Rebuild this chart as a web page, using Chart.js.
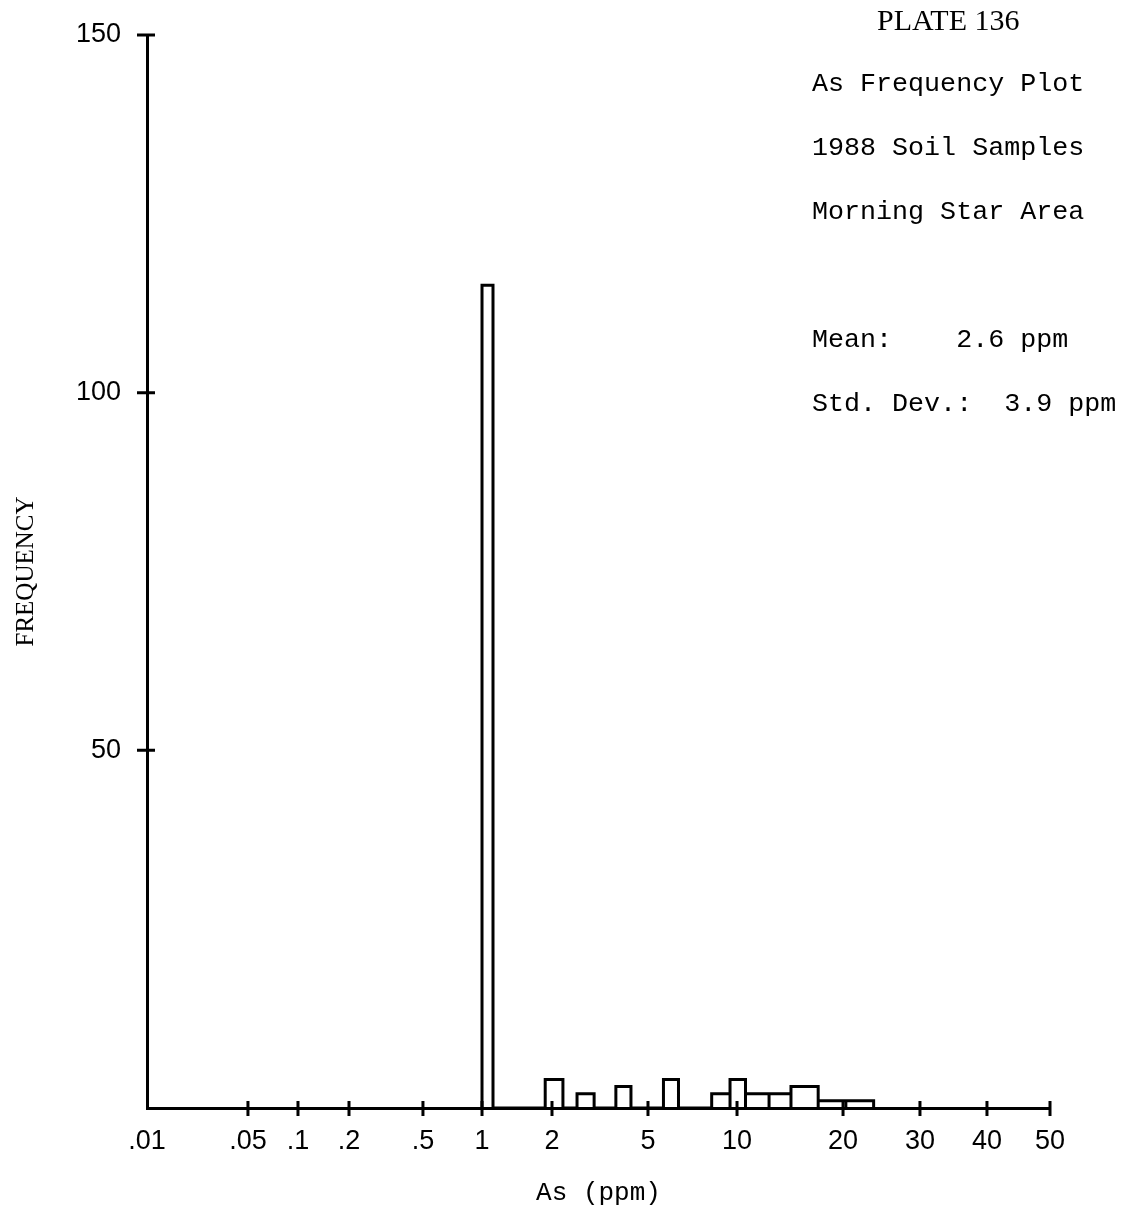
<!DOCTYPE html>
<html>
<head>
<meta charset="utf-8">
<script src="https://cdn.jsdelivr.net/npm/chart.js@4/dist/chart.umd.min.js"></script>
<style>
    html, body { margin: 0; padding: 0; background: #fff; }
    #wrap { position: relative; width: 1129px; height: 1215px; }
    #notes { position: absolute; left: 812px; top: -12px; color: #000; font-family: 'Liberation Mono', monospace; font-size: 26.7px; line-height: 64px; }
    #notes .ln { white-space: pre; height: 64px; }
    #notes .plate { font-family: 'Liberation Serif', serif; font-size: 30px; padding-left: 65px; }
</style>
</head>
<body>
<div id="wrap">
    <canvas id="chart"></canvas>
    <div id="notes"><div class="ln plate">PLATE 136</div><div class="ln">As Frequency Plot</div><div class="ln">1988 Soil Samples</div><div class="ln">Morning Star Area</div><div class="ln"> </div><div class="ln">Mean:    2.6 ppm</div><div class="ln">Std. Dev.:  3.9 ppm</div></div>
</div>
<script>
// x axis ticks (ppm) and where each sits along the axis (0 = left end, 1 = right end)
const tickValues = [0.01, 0.05, 0.1, 0.2, 0.5, 1, 2, 5, 10, 20, 30, 40, 50];
const tickLabels = ['.01', '.05', '.1', '.2', '.5', '1', '2', '5', '10', '20', '30', '40', '50'];
const tickStops = [0, 0.1118, 0.1672, 0.2237, 0.3056, 0.3710, 0.4485, 0.5548, 0.6534, 0.7708, 0.8560, 0.9302, 1];

// histogram classes (ppm) and counts
const binLow  = [1.0, 1.87, 2.54, 3.68, 5.64, 8.21, 9.47, 10.57, 12.33, 14.23, 17.0, 20.3];
const binHigh = [1.115, 2.22, 2.99, 4.25, 6.34, 9.47, 10.57, 12.33, 14.23, 17.0, 20.3, 23.5];
const counts  = [115, 4, 2, 3, 4, 2, 4, 2, 2, 3, 1, 1];

const yTicks = [0, 50, 100, 150];

function valueToStop(v) {
    if (v <= tickValues[0]) return 0;
    for (let i = 1; i < tickValues.length; i++) {
        if (v <= tickValues[i]) {
            const a = Math.log10(tickValues[i - 1]);
            const b = Math.log10(tickValues[i]);
            const t = (Math.log10(v) - a) / (b - a);
            return tickStops[i - 1] + t * (tickStops[i] - tickStops[i - 1]);
        }
    }
    return 1;
}

function stopToValue(d) {
    for (let i = 1; i < tickStops.length; i++) {
        if (d <= tickStops[i]) {
            const t = (d - tickStops[i - 1]) / (tickStops[i] - tickStops[i - 1]);
            const a = Math.log10(tickValues[i - 1]);
            const b = Math.log10(tickValues[i]);
            return Math.pow(10, a + t * (b - a));
        }
    }
    return tickValues[tickValues.length - 1];
}

// the plotting scale of the original: piecewise log between the labelled ticks
class StopScale extends Chart.LinearScale {
    buildTicks() {
        return tickValues.map(v => ({ value: v }));
    }
    getPixelForValue(value) {
        return this.getPixelForDecimal(valueToStop(value));
    }
    getValueForPixel(pixel) {
        return stopToValue(this.getDecimalForPixel(pixel));
    }
}
StopScale.id = 'stops';
StopScale.defaults = Chart.LinearScale.defaults;
Chart.register(StopScale);

// outline of the bars, walked along the baseline
const outline = [];
binLow.forEach((lo, i) => {
    outline.push({ x: lo, y: 0 }, { x: lo, y: counts[i] }, { x: binHigh[i], y: counts[i] }, { x: binHigh[i], y: 0 });
});

// tick marks that cross the axis lines
const crossTicks = {
    id: 'crossTicks',
    afterDraw(chart) {
        const { ctx, scales: { x, y } } = chart;
        ctx.save();
        ctx.strokeStyle = '#000';
        ctx.lineWidth = 3;
        ctx.beginPath();
        x.ticks.forEach((t, i) => {
            if (i === 0) return;
            const px = x.getPixelForValue(t.value);
            ctx.moveTo(px, x.top - 7);
            ctx.lineTo(px, x.top + 8);
        });
        y.ticks.forEach(t => {
            if (t.value === 0) return;
            const py = y.getPixelForValue(t.value);
            ctx.moveTo(y.right - 10, py);
            ctx.lineTo(y.right + 8, py);
        });
        ctx.stroke();
        ctx.restore();
    }
};

const canvas = document.getElementById('chart');
canvas.style.width = '1129px';
canvas.style.height = '1215px';

new Chart(canvas, {
    type: 'line',
    data: {
        datasets: [{
            data: outline,
            borderColor: '#000',
            borderWidth: 3,
            pointRadius: 0,
            fill: false,
            tension: 0
        }]
    },
    options: {
        responsive: true,
        maintainAspectRatio: false,
        animation: false,
        layout: { padding: { top: 35, right: 79, bottom: 0, left: 0 } },
        plugins: {
            legend: { display: false },
            tooltip: { enabled: false }
        },
        scales: {
            x: {
                type: 'stops',
                min: tickValues[0],
                max: tickValues[tickValues.length - 1],
                grid: { display: false, drawTicks: false },
                border: { color: '#000', width: 3 },
                ticks: {
                    autoSkip: false,
                    maxRotation: 0,
                    padding: 17,
                    color: '#000',
                    font: { family: 'Liberation Sans', size: 27 },
                    callback: (v, i) => tickLabels[i]
                },
                title: {
                    display: true,
                    text: 'As (ppm)',
                    color: '#000',
                    font: { family: 'Liberation Mono', size: 26 },
                    padding: { top: 0, bottom: 6 }
                },
                afterFit: s => { s.height = 107; s.paddingLeft = 0; s.paddingRight = 0; }
            },
            y: {
                min: yTicks[0],
                max: yTicks[yTicks.length - 1],
                afterBuildTicks: s => { s.ticks = yTicks.map(v => ({ value: v })); },
                grid: { display: false, drawTicks: false },
                border: { color: '#000', width: 3 },
                ticks: {
                    padding: 26,
                    color: '#000',
                    font: { family: 'Liberation Sans', size: 27 },
                    callback: v => (v === 0 ? '' : v)
                },
                title: {
                    display: true,
                    text: 'FREQUENCY',
                    color: '#000',
                    font: { family: 'Liberation Serif', size: 25 },
                    padding: { top: 11, bottom: 0 }
                },
                afterFit: s => { s.width = 147; s.paddingTop = 0; s.paddingBottom = 0; }
            }
        }
    },
    plugins: [crossTicks]
});
</script>
</body>
</html>
